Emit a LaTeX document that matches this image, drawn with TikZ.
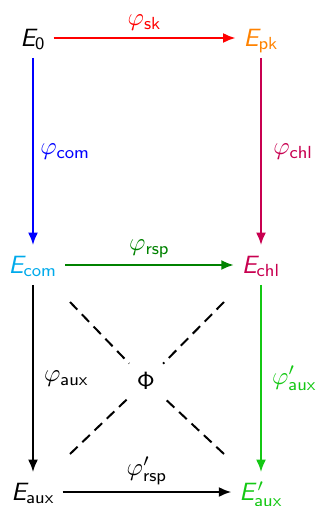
\documentclass[tikz,border=0pt]{standalone}
\usetikzlibrary{arrows.meta}
\DeclareSymbolFont{sfletters}{OT1}{cmss}{m}{sl}
\DeclareSymbolFont{sfupright}{OT1}{cmss}{m}{n}
\DeclareMathSymbol{E}{\mathalpha}{sfletters}{`E}
\DeclareMathSymbol{0}{\mathalpha}{sfupright}{`0}
\DeclareMathSymbol{\Phi}{\mathalpha}{sfupright}{"08}
\definecolor{cOrange}{RGB}{255,130,0}
\definecolor{cCyan}{RGB}{0,170,235}
\definecolor{cPurple}{RGB}{200,0,80}
\definecolor{cDGreen}{RGB}{0,130,0}
\definecolor{cLime}{RGB}{20,200,20}
\begin{document}
\begin{tikzpicture}[x=0.4pt,y=-0.4pt,
  obj/.style={inner sep=3pt, text height=8pt, text depth=1.5pt},
  arr/.style={-{Latex[length=5pt,width=4pt]}, line width=0.8pt},
  lbl/.style={inner sep=2.5pt},
  dsh/.style={line width=0.8pt, dash pattern=on 4.2pt off 2.6pt}]
\useasboundingbox (0,0) rectangle (322,506);
\node[obj] (E0) at (33,38) {$E_0$};
\node[obj, text=cOrange] (Epk) at (261,38) {$E_{\mathsf{pk}}$};
\node[obj, text=cCyan] (Ecom) at (33,265) {$E_{\mathsf{com}}$};
\node[obj, text=cPurple] (Echl) at (261,265) {$E_{\mathsf{chl}}$};
\node[obj] (Eaux) at (33,492) {$E_{\mathsf{aux}}$};
\node[obj, text=cLime] (Eauxp) at (261,492) {$E'_{\mathsf{aux}}$};
\draw[arr, red] (E0) -- node[above, lbl] {$\varphi_{\mathsf{sk}}$} (Epk);
\draw[arr, blue] (E0) -- node[right, lbl] {$\varphi_{\mathsf{com}}$} (Ecom);
\draw[arr, cPurple] (Epk) -- node[right, lbl, xshift=2pt] {$\varphi_{\mathsf{chl}}$} (Echl);
\draw[arr, cDGreen] (Ecom) -- node[above, lbl] {$\varphi_{\mathsf{rsp}}$} (Echl);
\draw[arr] (Ecom) -- node[right, lbl, xshift=1.5pt] {$\varphi_{\mathsf{aux}}$} (Eaux);
\draw[arr, cLime] (Echl) -- node[right, lbl, xshift=1.5pt] {$\varphi'_{\mathsf{aux}}$} (Eauxp);
\draw[arr] (Eaux) -- node[above, lbl] {$\varphi'_{\mathsf{rsp}}$} (Eauxp);
\node[circle, minimum size=19pt, inner sep=0pt] (Phi) at (146,381) {$\Phi$};
\coordinate (d1) at (70,302);
\coordinate (d2) at (224,302);
\coordinate (d3) at (224,454);
\coordinate (d4) at (70,454);
\draw[dsh] (d1) -- (Phi);
\draw[dsh] (d2) -- (Phi);
\draw[dsh] (d3) -- (Phi);
\draw[dsh] (d4) -- (Phi);
\end{tikzpicture}
\end{document}
